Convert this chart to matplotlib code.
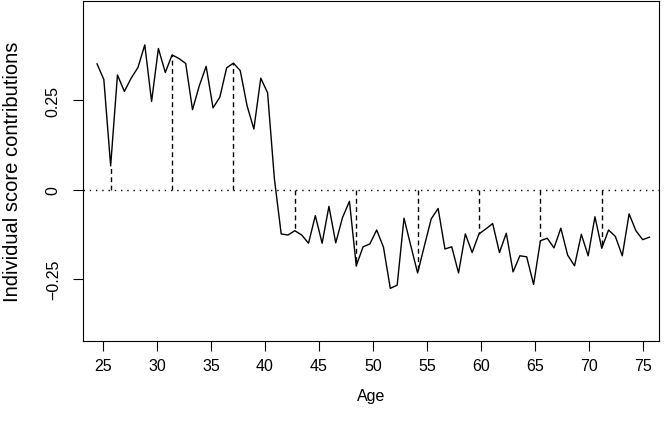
import matplotlib
matplotlib.use("Agg")
import matplotlib.pyplot as plt

ages = [24.45, 25.08, 25.71, 26.34, 26.98, 27.61, 28.24, 28.87, 29.50, 30.13,
        30.77, 31.40, 32.03, 32.66, 33.29, 33.92, 34.55, 35.19, 35.82, 36.45,
        37.08, 37.71, 38.34, 38.97, 39.61, 40.24, 40.87, 41.50, 42.13, 42.76,
        43.40, 44.03, 44.66, 45.29, 45.92, 46.55, 47.18, 47.82, 48.45, 49.08,
        49.71, 50.34, 50.97, 51.60, 52.24, 52.87, 53.50, 54.13, 54.76, 55.39,
        56.03, 56.66, 57.29, 57.92, 58.55, 59.18, 59.81, 60.45, 61.08, 61.71,
        62.34, 62.97, 63.60, 64.23, 64.87, 65.50, 66.13, 66.76, 67.39, 68.02,
        68.66, 69.29, 69.92, 70.55, 71.18, 71.81, 72.44, 73.08, 73.71, 74.34,
        74.97, 75.60]

scores = [0.351, 0.307, 0.066, 0.320, 0.274, 0.311, 0.341, 0.404, 0.246, 0.394,
          0.327, 0.376, 0.366, 0.352, 0.223, 0.290, 0.344, 0.228, 0.258, 0.340,
          0.353, 0.332, 0.234, 0.169, 0.311, 0.270, 0.030, -0.124, -0.127, -0.115,
          -0.127, -0.150, -0.073, -0.150, -0.047, -0.149, -0.078, -0.033, -0.213, -0.160,
          -0.152, -0.113, -0.161, -0.276, -0.267, -0.080, -0.157, -0.233, -0.157, -0.082,
          -0.053, -0.166, -0.160, -0.233, -0.124, -0.176, -0.124, -0.110, -0.095, -0.176,
          -0.122, -0.230, -0.185, -0.188, -0.265, -0.143, -0.136, -0.163, -0.108, -0.183,
          -0.213, -0.125, -0.185, -0.076, -0.164, -0.113, -0.131, -0.185, -0.068, -0.115,
          -0.140, -0.133]

marked = [2, 11, 20, 29, 38, 47, 56, 65, 74]

xticks = [25, 30, 35, 40, 45, 50, 55, 60, 65, 70, 75]
yticks = [-0.25, 0, 0.25]
yticklabels = ["\u22120.25", "0", "0.25"]

plt.rcParams['font.family'] = ['Liberation Sans', 'DejaVu Sans']

fig = plt.figure(figsize=(6.66, 4.31), dpi=100)
ax = fig.add_axes([83/666, 1-342/431, (659-83)/666, 340/431])

ax.plot(ages, scores, color='black', lw=1.0)
ax.axhline(0, color='black', lw=1.0, linestyle=(0, (1, 3.5)))
ax.vlines([ages[i] for i in marked], 0, [scores[i] for i in marked],
          colors='black', lw=1.0, linestyles=[(0, (3.5, 2.5))])

ax.set_xlim(23.15, 76.48)
ax.set_ylim(-0.423, 0.5265)
ax.set_xticks(xticks)
ax.set_xticklabels([str(t) for t in xticks])
ax.set_yticks(yticks)
ax.set_yticklabels(yticklabels, rotation=90, va='center')
ax.tick_params(direction='out', length=7, width=0.8, labelsize=11.5)
ax.tick_params(axis='x', pad=5)
ax.tick_params(axis='y', pad=9)
for s in ax.spines.values():
    s.set_linewidth(0.8)
ax.set_xlabel("Age", fontsize=11.5, labelpad=11)
ax.set_ylabel("Individual score contributions", fontsize=14.5, labelpad=17)

fig.savefig("out.png", dpi=100)
